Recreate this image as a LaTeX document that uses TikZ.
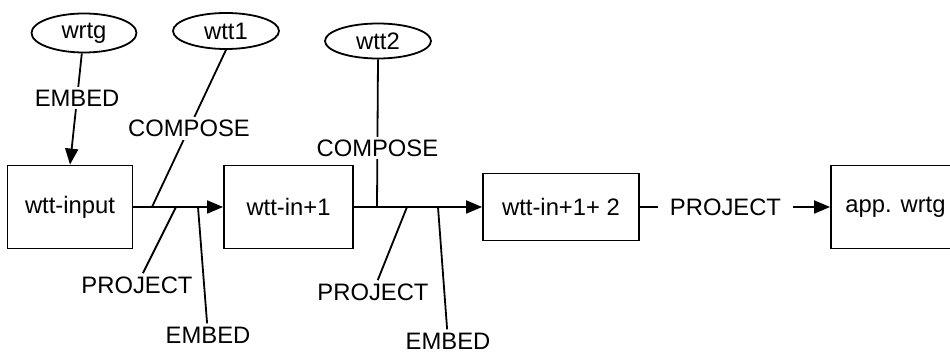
\documentclass[tikz,border=0pt]{standalone}
\usepackage{fontspec}
\setmainfont{Liberation Sans}
\usetikzlibrary{arrows.meta,shapes.geometric}
\newcommand{\wtfont}{\fontsize{11.9}{13.5}\selectfont}
\tikzset{
  wt box/.style={draw, line width=0.9pt, minimum width=62.5pt, minimum height=41.5pt, inner sep=0pt, font=\wtfont},
  wt src/.style={ellipse, draw, line width=0.9pt, minimum width=53pt, minimum height=18pt, inner sep=0pt, font=\wtfont},
  wt line/.style={draw, line width=0.9pt},
  wt arrow/.style={wt line, -{Triangle[length=8pt,width=6.5pt]}},
  wt label/.style={font=\wtfont, fill=white, inner sep=1.5pt},
}

\begin{document}
\begin{tikzpicture}[x=0.5pt,y=-0.5pt]
  \useasboundingbox (0,0) rectangle (950,352);
  % sources
  \node[wt src, minimum width=52.5pt, minimum height=19.5pt] (wrtg) at (84,33) {wrtg};
  \node[wt src] (wtt1) at (226,31) {wtt1};
  \node[wt src, minimum height=17.5pt] (wtt2) at (378,41) {wtt2};
  % stages
  \node[wt box] (input) at (70,207) {wtt-input};
  \node[wt box, minimum width=64.5pt] (in1) at (288.5,207) {wtt-in+1};
  \node[wt box, minimum width=78pt, minimum height=33.5pt] (in12) at (561,207) {wtt-in+1+ 2};
  \node[wt box, minimum width=64.5pt] (app) at (895.5,207) {app. wrtg};
  % junctions on the main line
  \coordinate (cmp1) at (152,207);
  \coordinate (prj1) at (176,207);
  \coordinate (emb1) at (198,207);
  \coordinate (cmp2) at (377,207);
  \coordinate (prj2) at (407,207);
  \coordinate (emb2) at (438,207);
  % lower labels
  \node[wt label] (prjlab1) at (137,285) {PROJECT};
  \node[wt label] (emblab1) at (208,335) {EMBED};
  \node[wt label] (prjlab2) at (373,292) {PROJECT};
  \node[wt label] (emblab2) at (448,341) {EMBED};

  \draw[wt arrow] (input) -- (in1);
  \draw[wt arrow] (in1) -- (in12);
  \draw[wt arrow] (in12) -- node[wt label, inner xsep=6pt, pos=0.45] {PROJECT} (app);
  \draw[wt arrow] (wrtg) -- node[wt label, pos=0.4] {EMBED} (input.north);
  \draw[wt line] (wtt1.south) -- node[wt label] {COMPOSE} (cmp1);
  \draw[wt line] (wtt2.south) -- node[wt label, pos=0.6] {COMPOSE} (cmp2);
  \draw[wt line] (prj1) -- (prjlab1);
  \draw[wt line] (emb1) -- (emblab1);
  \draw[wt line] (prj2) -- (prjlab2);
  \draw[wt line] (emb2) -- (emblab2);
\end{tikzpicture}
\end{document}
